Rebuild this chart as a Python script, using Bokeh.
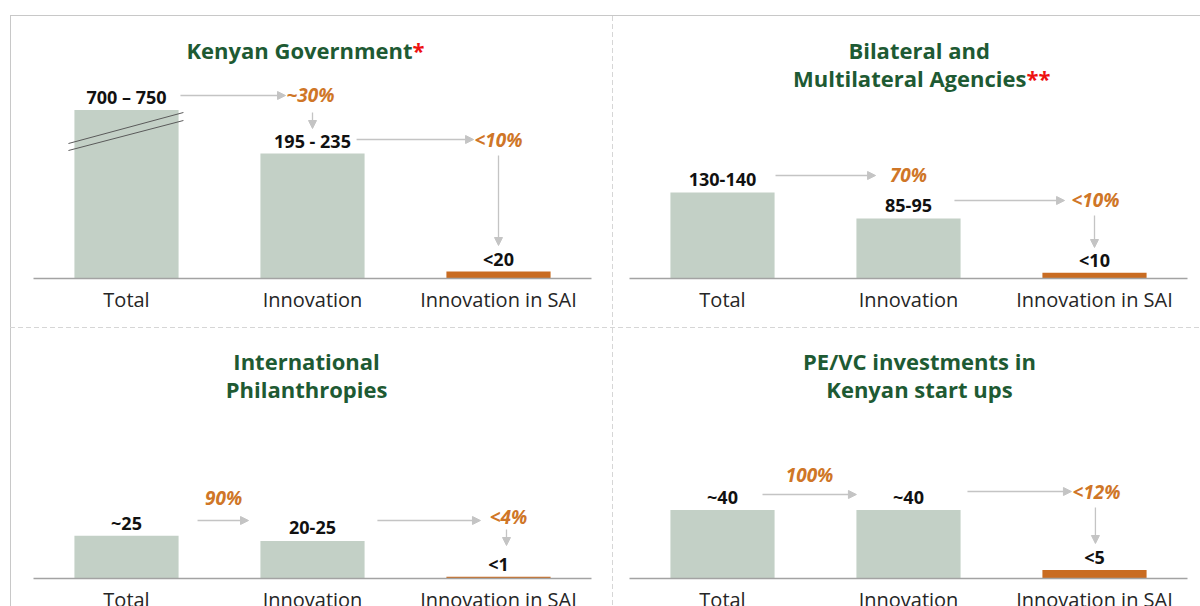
from bokeh.plotting import figure
from bokeh.models import Range1d, Arrow, NormalHead, Spacer, FixedTicker
from bokeh.layouts import row, column
from bokeh.core.properties import value
from bokeh.embed import file_html
from bokeh.resources import INLINE

# ---------------- data ----------------
categories = ["Total", "Innovation", "Innovation in SAI"]

# Kenyan Government (Total bar is drawn with a broken axis)
kg_heights = [290, 215, 12]
kg_labels = ["700 – 750", "195 - 235", "<20"]
kg_shares = ["~30%", "<10%"]

# Bilateral and Multilateral Agencies
bi_heights = [135, 94, 9]
bi_labels = ["130-140", "85-95", "<10"]
bi_shares = ["70%", "<10%"]

# International Philanthropies
ph_heights = [25, 22, 1]
ph_labels = ["~25", "20-25", "<1"]
ph_shares = ["90%", "<4%"]

# PE/VC investments in Kenyan start ups
pe_heights = [40, 40, 5]
pe_labels = ["~40", "~40", "<5"]
pe_shares = ["100%", "<12%"]

# ---------------- styles ----------------
FONT = "Open Sans"
GREEN = "#1e5a33"
BAR = "#c3d0c6"
ORANGE = "#c96c22"
ORANGE_TXT = "#cf7627"
ARROW = "#c4c4c4"
bar_colors = [BAR, BAR, ORANGE]
xpos = [i + 0.5 for i in range(len(categories))]


def panel(width, height, mbl, mbr, mbb, frame_h, ppu, heights, labels, shares,
          title_lines, title_cx, star, star_x, arrows, share_pos, breaks=None):
    p = figure(width=width, height=height,
               x_range=Range1d(0, len(categories)),
               y_range=Range1d(0, frame_h / ppu),
               output_backend="svg", toolbar_location=None,
               y_axis_location=None,
               min_border_left=mbl, min_border_right=mbr,
               min_border_top=0, min_border_bottom=mbb,
               outline_line_color=None,
               background_fill_color="white", border_fill_color="white")
    p.extra_y_ranges = {"px": Range1d(0, frame_h)}
    p.xgrid.visible = False
    p.ygrid.visible = False
    ax = p.xaxis[0]
    ax.ticker = FixedTicker(ticks=xpos, minor_ticks=[])
    ax.major_label_overrides = {x: c for x, c in zip(xpos, categories)}
    ax.axis_line_color = "#a3a3a3"
    ax.axis_line_width = 1.5
    ax.major_tick_line_color = None
    ax.minor_tick_line_color = None
    ax.major_label_standoff = 1
    ax.major_label_text_font = FONT
    ax.major_label_text_font_size = "20px"
    ax.major_label_text_color = "#262626"

    p.vbar(x=xpos, top=heights, width=0.56, fill_color=bar_colors,
           line_color=None)
    p.text(x=xpos, y=heights, text=labels, text_align="center",
           text_baseline="middle", y_offset=-13,
           text_font=value(FONT), text_font_style="bold",
           text_font_size="18px", text_color="#111111")

    # titles (distance below frame top)
    n = len(title_lines)
    for i, (txt, d) in enumerate(title_lines):
        last = (i == n - 1) and star
        p.text(x=[star_x if last else title_cx], y=[frame_h - d], text=[txt],
               y_range_name="px",
               text_align="right" if last else "center",
               text_baseline="middle", text_font=value(FONT),
               text_font_style="bold", text_font_size="22px",
               text_color=GREEN)
        if last:
            p.text(x=[star_x], y=[frame_h - d], text=[star],
                   y_range_name="px",
                   text_align="left", text_baseline="middle",
                   text_font=value(FONT), text_font_style="bold",
                   text_font_size="22px", text_color="#ee1111")

    for (x0, y0, x1, y1) in arrows:
        p.add_layout(Arrow(x_start=x0, y_start=y0, x_end=x1, y_end=y1,
                           y_range_name="px",
                           line_color=ARROW, line_width=1.3,
                           end=NormalHead(size=8, fill_color=ARROW,
                                          line_color=ARROW)))
    p.text(x=[sp[0] for sp in share_pos], y=[sp[1] for sp in share_pos],
           text=shares, y_range_name="px",
           text_align="center", text_baseline="middle",
           text_font=value(FONT), text_font_style="bold italic",
           text_font_size="19px", text_color=ORANGE_TXT)
    if breaks:
        p.segment(x0=[b[0] for b in breaks], y0=[b[1] for b in breaks],
                  x1=[b[2] for b in breaks], y1=[b[3] for b in breaks],
                  y_range_name="px",
                  line_color="#5a5a5a", line_width=1)
    return p


kg = panel(601, 311, 22, 21, 49, 262, 0.581, kg_heights, kg_labels, kg_shares,
           [("Kenyan Government", 33)], 1.462, "*", 2.038,
           [(0.790, 183, 1.355, 183), (1.5, 166, 1.5, 150),
            (1.737, 139, 2.366, 139), (2.5, 123, 2.5, 33)],
           [(1.489, 184), (2.5, 139)],
           breaks=[(0.188, 135, 0.806, 166), (0.188, 128, 0.806, 158)])

bi = panel(587, 311, 16, 13, 49, 262, 0.637, bi_heights, bi_labels, bi_shares,
           [("Bilateral and", 33), ("Multilateral Agencies", 61)], 1.557, "**", 2.134,
           [(0.785, 103, 1.323, 103), (1.747, 78, 2.339, 78), (2.5, 63, 2.5, 31)],
           [(1.5, 104), (2.505, 79)])

ph = panel(601, 287, 22, 21, 37, 250, 1.71, ph_heights, ph_labels, ph_shares,
           [("International", 32), ("Philanthropies", 60)], 1.468, None, 0,
           [(0.882, 58, 1.156, 58), (1.849, 58, 2.403, 58), (2.543, 49, 2.543, 33)],
           [(1.022, 81), (2.554, 62)])

pe = panel(587, 287, 16, 13, 37, 250, 1.71, pe_heights, pe_labels, pe_shares,
           [("PE/VC investments in", 32), ("Kenyan start ups", 60)], 1.559, None, 0,
           [(0.715, 84, 1.220, 84), (1.817, 87, 2.376, 87), (2.505, 71, 2.505, 35)],
           [(0.968, 104), (2.511, 87)])

SOLID = {"background-color": "#c8c8c8"}
DASH_V = {"background-image": "repeating-linear-gradient(to bottom, #d6d6d6 0px, #d6d6d6 5px, transparent 5px, transparent 8px)"}
DASH_H = {"background-image": "repeating-linear-gradient(to right, #d6d6d6 0px, #d6d6d6 5px, transparent 5px, transparent 8px)"}

bottom = column(
    row(Spacer(width=1, height=287, styles=SOLID), ph,
        Spacer(width=1, height=287, styles=DASH_V), pe),
    styles={"max-height": "278px", "overflow": "hidden"})

grid = column(
    Spacer(width=1190, height=1, styles=SOLID),
    row(Spacer(width=1, height=311, styles=SOLID), kg,
        Spacer(width=1, height=311, styles=DASH_V), bi),
    Spacer(width=1190, height=1, styles=DASH_H),
    bottom,
    styles={"max-height": "591px", "overflow": "hidden"},
)
layout = column(Spacer(width=1200, height=15),
                row(Spacer(width=10, height=591), grid),
                styles={"max-height": "606px", "overflow": "hidden"})

open("out.html", "w").write(file_html(layout, INLINE))
